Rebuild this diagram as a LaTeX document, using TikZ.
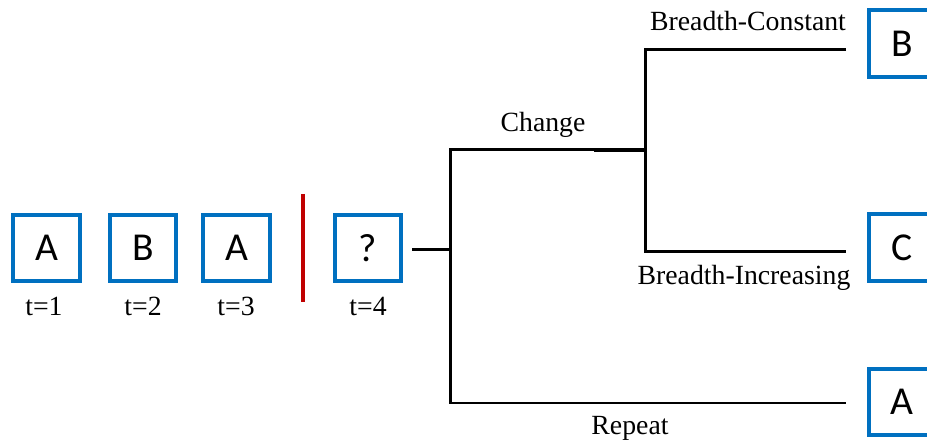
\documentclass[tikz,border=0pt]{standalone}
\usepackage{fontspec}
\setmainfont{Liberation Serif}
\newfontfamily\boxfont{Carlito}
\definecolor{seqblue}{HTML}{0070C0}
\definecolor{cutred}{HTML}{C00000}
\tikzset{
  seqbox/.style={draw=seqblue, line width=0.08cm, minimum size=1.34cm, inner sep=0pt,
    font=\boxfont\fontsize{22.5}{27}\selectfont},
  lbl/.style={font=\fontsize{15.8}{19}\selectfont, inner sep=0pt, anchor=base},
  branch/.style={line width=0.06cm}
}
\begin{document}
\begin{tikzpicture}[x=0.02cm, y=-0.02cm]
    \clip (0,0) rectangle (927,442);

    % sequence so far
    \node[seqbox] (s1) at (46.5,248) {A};
    \node[seqbox] (s2) at (143,248) {B};
    \node[seqbox] (s3) at (236.5,248) {A};
    \node[seqbox] (s4) at (368,248) {?};
    \node[lbl] (t1) at (44,316) {t=1};
    \node[lbl] (t2) at (143,316) {t=2};
    \node[lbl] (t3) at (236,316) {t=3};
    \node[lbl] (t4) at (368,316) {t=4};

    % cut between seen and predicted
    \draw[cutred, line width=0.08cm] (303,194) -- (303,302);

    % outcomes
    \node[seqbox] (oB) at (902,43.5) {B};
    \node[seqbox] (oC) at (902,247.5) {C};
    \node[seqbox] (oA) at (902,402) {A};

    % tree
    \coordinate (stub) at (412,250);
    \coordinate (split) at (450,250);
    \coordinate (j1bot) at (450,403);
    \coordinate (chgend) at (594,150);
    \coordinate (j2) at (645,150);
    \coordinate (j2bot) at (645,252);
    \coordinate (endB) at (846,50);
    \coordinate (endC) at (846,252);
    \coordinate (endA) at (846,403);

    \draw[branch] (stub) -- (split);
    \draw[branch] (chgend) -| (j1bot) -- (endA);
    \draw[branch, line width=0.08cm] (chgend) -- (j2);
    \draw[branch] (endB) -| (j2bot) -- (endC);

    \node[lbl] (chg) at (543,132) {Change};
    \node[lbl] (bcon) at (748,31) {Breadth-Constant};
    \node[lbl] (binc) at (744,285) {Breadth-Increasing};
    \node[lbl] (rep) at (630,435) {Repeat};
\end{tikzpicture}
\end{document}
